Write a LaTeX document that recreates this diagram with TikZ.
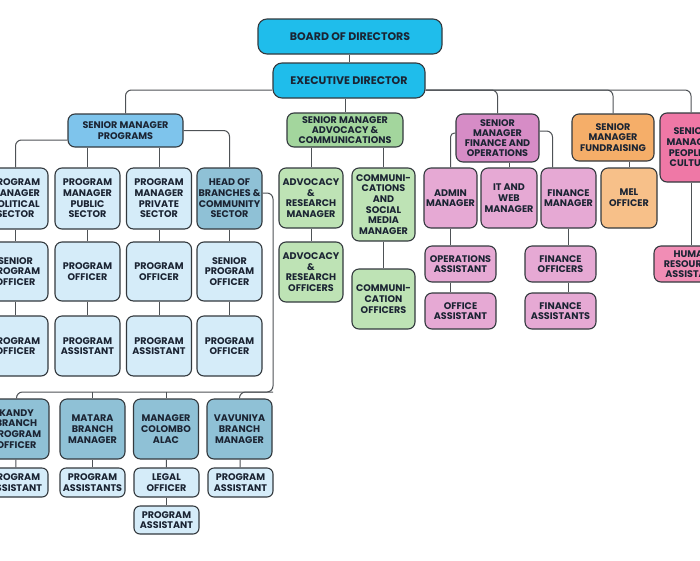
\documentclass[tikz,border=0pt]{standalone}
\usepackage{fontspec}
\setmainfont{Poppins}
\definecolor{ink}{HTML}{1B2433}
\definecolor{boxline}{HTML}{33393E}
\definecolor{linkgray}{HTML}{4E5256}
\definecolor{topcyan}{HTML}{1FBDEB}
\definecolor{progblue}{HTML}{7EC4EC}
\definecolor{paleblue}{HTML}{D5ECF9}
\definecolor{steelblue}{HTML}{8FC1D6}
\definecolor{advgreen}{HTML}{A3D69D}
\definecolor{palegreen}{HTML}{BEE3B5}
\definecolor{finplum}{HTML}{D68CC6}
\definecolor{paleplum}{HTML}{E6A9D4}
\definecolor{fundorange}{HTML}{F5AE69}
\definecolor{paleorange}{HTML}{F7C089}
\definecolor{peoplepink}{HTML}{EF78A6}
\definecolor{palepink}{HTML}{F18DB5}
\tikzset{
post/.style={draw=boxline, line width=1.1pt, rounded corners=7pt, inner sep=0pt,
  align=center, text=ink, font=\fontsize{9.6}{10.7}\selectfont\bfseries},
tight/.style={font=\fontsize{9.6}{10}\selectfont\bfseries},
headline/.style={font=\fontsize{11}{12}\selectfont\bfseries},
link/.style={draw=linkgray, line width=1pt, rounded corners=6pt},
rowtop/.style={post, minimum width=65pt, minimum height=61pt},
rowmid/.style={post, minimum width=65pt, minimum height=59pt},
rowlow/.style={post, minimum width=65pt, minimum height=60pt},
rowslim/.style={post, minimum width=65pt, minimum height=29pt, rounded corners=6pt},
finbox/.style={post, minimum width=71pt, minimum height=36pt, fill=paleplum}
}
\begin{document}
\begin{tikzpicture}[x=1pt, y=-1pt]
\useasboundingbox (0,0) rectangle (700,560);
\clip (0,0) rectangle (700,560);
% top of the chart
\node[post, headline, fill=topcyan, minimum width=184pt, minimum height=35pt, rounded corners=9pt] (bod) at (350,36.5) {BOARD OF DIRECTORS};
\node[post, headline, fill=topcyan, minimum width=152pt, minimum height=35pt, rounded corners=9pt] (ed) at (349,80.5) {EXECUTIVE DIRECTOR};
% senior managers
\node[post, fill=progblue, minimum width=115pt, minimum height=33pt] (smp) at (125.5,130.5) {SENIOR MANAGER\\PROGRAMS};
\node[post, tight, fill=advgreen, minimum width=116pt, minimum height=34pt] (sma) at (345,130) {SENIOR MANAGER\\ADVOCACY \&\\COMMUNICATIONS};
\node[post, tight, fill=finplum, minimum width=83pt, minimum height=48pt] (smf) at (497.5,138) {SENIOR\\MANAGER\\FINANCE AND\\OPERATIONS};
\node[post, fill=fundorange, minimum width=82pt, minimum height=47pt] (smr) at (613,137.5) {SENIOR\\MANAGER\\FUNDRAISING};
\node[post, fill=peoplepink, minimum width=62pt, minimum height=69pt] (smc) at (691,147.5) {SENIOR\\MANAGER\\PEOPLE \&\\CULTURE};
% programs
\node[rowtop, fill=paleblue] (pp1) at (15.5,198.5) {PROGRAM\\MANAGER\\POLITICAL\\SECTOR};
\node[rowtop, fill=paleblue] (pp2) at (87.5,198.5) {PROGRAM\\MANAGER\\PUBLIC\\SECTOR};
\node[rowtop, fill=paleblue] (pp3) at (159,198.5) {PROGRAM\\MANAGER\\PRIVATE\\SECTOR};
\node[rowtop, fill=steelblue] (hb) at (229.5,198.5) {HEAD OF\\BRANCHES \&\\COMMUNITY\\SECTOR};
\node[rowmid, fill=paleblue] (po1) at (15.5,271.5) {SENIOR\\PROGRAM\\OFFICER};
\node[rowmid, fill=paleblue] (po2) at (87.5,271.5) {PROGRAM\\OFFICER};
\node[rowmid, fill=paleblue] (po3) at (159,271.5) {PROGRAM\\OFFICER};
\node[rowmid, fill=paleblue] (po4) at (229.5,271.5) {SENIOR\\PROGRAM\\OFFICER};
\node[rowlow, fill=paleblue] (pa1) at (15.5,346) {PROGRAM\\OFFICER};
\node[rowlow, fill=paleblue] (pa2) at (87.5,346) {PROGRAM\\ASSISTANT};
\node[rowlow, fill=paleblue] (pa3) at (159,346) {PROGRAM\\ASSISTANT};
\node[rowlow, fill=paleblue] (pa4) at (229.5,346) {PROGRAM\\OFFICER};
% branches
\node[rowlow, fill=steelblue] (kb) at (16.5,429) {KANDY\\BRANCH\\PROGRAM\\OFFICER};
\node[rowlow, fill=steelblue] (mb) at (92.5,429) {MATARA\\BRANCH\\MANAGER};
\node[rowlow, fill=steelblue] (cb) at (166,429) {MANAGER\\COLOMBO\\ALAC};
\node[rowlow, fill=steelblue] (vb) at (239.5,429) {VAVUNIYA\\BRANCH\\MANAGER};
\node[rowslim, fill=paleblue] (ka) at (15.5,482.5) {PROGRAM\\ASSISTANT};
\node[rowslim, fill=paleblue] (ma) at (92.5,482.5) {PROGRAM\\ASSISTANTS};
\node[rowslim, fill=paleblue] (lo) at (166.5,482.5) {LEGAL\\OFFICER};
\node[rowslim, fill=paleblue] (va) at (240.5,482.5) {PROGRAM\\ASSISTANT};
\node[rowslim, fill=paleblue, minimum height=28pt] (la) at (166.5,520) {PROGRAM\\ASSISTANT};
% advocacy
\node[post, fill=palegreen, minimum width=64pt, minimum height=60pt] (arm) at (311,198) {ADVOCACY\\\&\\RESEARCH\\MANAGER};
\node[post, fill=palegreen, minimum width=63pt, minimum height=73pt] (csm) at (383.5,204.5) {COMMUNI-\\CATIONS\\AND\\SOCIAL\\MEDIA\\MANAGER};
\node[post, fill=palegreen, minimum width=64pt, minimum height=60pt] (aro) at (311,272) {ADVOCACY\\\&\\RESEARCH\\OFFICERS};
\node[post, fill=palegreen, minimum width=63pt, minimum height=60pt] (cmo) at (383.5,299) {COMMUNI-\\CATION\\OFFICERS};
% finance, fundraising, people
\node[post, fill=paleplum, minimum width=53pt, minimum height=60pt] (adm) at (450.5,198) {ADMIN\\MANAGER};
\node[post, fill=paleplum, minimum width=56pt, minimum height=60pt] (itw) at (509,198) {IT AND\\WEB\\MANAGER};
\node[post, fill=paleplum, minimum width=55pt, minimum height=60pt] (fim) at (568.5,198) {FINANCE\\MANAGER};
\node[post, fill=paleorange, minimum width=56pt, minimum height=60pt] (mel) at (629,198) {MEL\\OFFICER};
\node[finbox] (opa) at (460.5,264) {OPERATIONS\\ASSISTANT};
\node[finbox] (ofa) at (460.5,311) {OFFICE\\ASSISTANT};
\node[finbox] (fio) at (560.5,264) {FINANCE\\OFFICERS};
\node[finbox] (fia) at (560.5,311) {FINANCE\\ASSISTANTS};
\node[post, tight, fill=palepink, minimum width=76pt, minimum height=36pt] (hra) at (692,264) {HUMAN\\RESOURCES\\ASSISTANT};
% connectors
\coordinate (hbturn) at (273,392);
\draw[link] (bod.south -| ed.north) -- (ed.north);
\draw[link] (ed.south -| sma.north) -- (sma.north);
\draw[link] ([yshift=-9.5pt]ed.west) -| (smp.north);
\draw[link] ([yshift=-9.5pt]ed.east) -| (smf.north);
\draw[link] ([yshift=-9.5pt]ed.east) -| (smr.north);
\draw[link] ([yshift=-9.5pt]ed.east) -| (smc.north);
\draw[link] ([yshift=-9.5pt]smp.west) -| (pp1.north);
\draw[link] (smp.south -| pp2.north) -- (pp2.north);
\draw[link] (smp.south -| pp3.north) -- (pp3.north);
\draw[link] (smp.east) -| (hb.north);
\foreach \col in {1,2,3} {
  \draw[link] (pp\col) -- (po\col);
  \draw[link] (po\col) -- (pa\col);
}
\draw[link] (hb) -- (po4);
\draw[link] (po4) -- (pa4);
\draw[link] ([yshift=5.5pt]hb.east) -| (hbturn) -| (kb.north);
\draw[link] (mb.north |- hbturn) -- (mb.north);
\draw[link] (cb.north |- hbturn) -- (cb.north);
\draw[link] (hbturn) -| (vb.north);
\draw[link] (kb) -- (ka);
\draw[link] (mb) -- (ma);
\draw[link] (cb) -- (lo);
\draw[link] (lo) -- (la);
\draw[link] (vb) -- (va);
\draw[link] (sma.south -| arm.north) -- (arm.north);
\draw[link] (sma.south -| csm.north) -- (csm.north);
\draw[link] (arm) -- (aro);
\draw[link] (csm) -- (cmo);
\draw[link, rounded corners=4pt] ([yshift=5pt]smf.west) -| (adm.north);
\draw[link] (smf.south -| itw.north) -- (itw.north);
\draw[link] ([yshift=7pt]smf.east) -| ([xshift=-16pt]fim.north);
\draw[link] (adm.south) -- (adm.south |- opa.north);
\draw[link] (adm.south |- opa.south) -- (adm.south |- ofa.north);
\draw[link] (fim.south) -- (fim.south |- fio.north);
\draw[link] (fim.south |- fio.south) -- (fim.south |- fia.north);
\draw[link] (mel.north |- smr.south) -- (mel.north);
\draw[link] (smc.south) -- (smc.south |- hra.north);
\end{tikzpicture}
\end{document}
